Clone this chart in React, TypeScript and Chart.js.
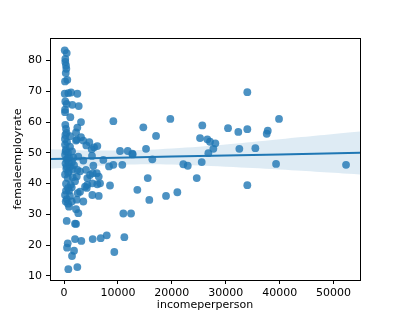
import React, { useEffect, useRef } from "react";
import { Chart, registerables } from "chart.js";

Chart.register(...registerables);

const incomePerPerson = [
  130, 500, 240, 240, 370, 430, 320, 610, 190, 130,
  800, 1300, 2470, 240, 500, 1540, 2730, 190, 190, 1170,
  3150, 2470, 240, 370, 2230, 460, 3150, 2230, 4690, 4140,
  6180, 5140, 9150, 14710, 17070, 19720, 15210, 10390, 11820, 12740,
  7290, 2650, 3580, 16380, 5190, 1110, 2360, 3580, 5570, 1730,
  500, 870, 1610, 2470, 690, 1610, 2360, 1240, 1430, 370,
  930, 190, 500, 320, 1430, 930, 2230, 2650, 2230, 2040,
  500, 2970, 2540, 3580, 4320, 3900, 5250, 6180, 6680, 6440,
  4320, 5320, 6070, 5440, 4080, 4820, 6440, 5250, 8530, 8350,
  9150, 10810, 13600, 15530, 15820, 11000, 12430, 18920, 21020, 690,
  560, 2040, 3210, 5320, 6810, 7920, 11190, 9330, 1860, 1480,
  800, 2470, 22130, 22950, 24620, 39330, 52310, 34000, 34000, 39880,
  25650, 30420, 32330, 34000, 37790, 37600, 25230, 26580, 27080, 28070,
  27700, 26770, 32520, 35490, 25540, 12670, 190, 370, 190, 460,
  280, 740, 560, 930, 740, 190, 370, 740, 1110, 740,
  1110, 1480, 1860, 1110, 1480, 2970, 2040, 4210, 2360, 170,
  300, 650, 250, 900, 420,
];

const femaleEmployRate = [
  83.3, 82.4, 80.5, 79.5, 78.4, 77.3, 75.9, 73.7, 73.2, 69.2,
  69.4, 69.6, 69.2, 66.7, 65.9, 65.6, 65.2, 64.0, 63.2, 61.6,
  60.0, 58.2, 59.1, 57.8, 56.6, 56.5, 55.1, 54.0, 53.5, 52.4,
  52.2, 51.2, 60.3, 58.3, 55.5, 61.0, 51.3, 50.6, 50.6, 49.5,
  47.7, 48.8, 47.5, 47.9, 49.0, 55.4, 54.3, 54.0, 51.8, 48.4,
  45.6, 44.0, 44.7, 44.5, 41.8, 42.1, 42.3, 39.6, 38.8, 37.7,
  37.7, 36.3, 35.0, 34.2, 34.2, 32.5, 31.7, 30.4, 26.9, 27.0,
  27.9, 37.4, 36.9, 34.2, 39.6, 39.0, 40.1, 39.8, 40.1, 42.3,
  41.8, 43.4, 43.4, 45.8, 44.5, 42.8, 36.0, 36.3, 39.4, 45.6,
  46.1, 46.1, 38.0, 41.8, 34.7, 30.3, 30.3, 36.0, 37.2, 20.6,
  19.2, 22.0, 21.4, 22.0, 22.3, 23.2, 22.6, 17.8, 18.2, 16.5,
  12.2, 12.9, 46.3, 45.8, 41.8, 46.4, 46.1, 39.5, 69.7, 61.0,
  58.9, 58.0, 56.8, 57.7, 57.2, 56.2, 54.8, 54.4, 53.6, 53.1,
  51.3, 49.9, 51.3, 51.5, 47.0, 49.7, 52.7, 51.1, 49.4, 47.8,
  46.5, 50.0, 53.5, 48.5, 43.5, 43.0, 40.0, 38.5, 36.0, 33.5,
  45.5, 47.0, 46.0, 52.0, 50.5, 44.0, 40.8, 38.6, 34.8, 54.5,
  50.5, 48.2, 55.8, 46.8, 44.8,
];

// Regression line and 95% confidence band
const fitX = [-2600, 5000, 12000, 20000, 30000, 40000, 54900];
const fitLine = [48.0, 48.26, 48.51, 48.79, 49.13, 49.48, 50.0];
const fitUpper = [51.2, 50.8, 50.8, 51.4, 52.7, 54.4, 56.9];
const fitLower = [44.8, 45.7, 46.2, 46.2, 45.5, 44.6, 43.0];

const xTicks = [0, 10000, 20000, 30000, 40000, 50000];
const yTicks = [10, 20, 30, 40, 50, 60, 70, 80];
const xLimits = [-2600, 54900];
const yLimits = [8.7, 87.3];
const xTitle = "incomeperperson";
const yTitle = "femaleemployrate";

const spinePlugin = {
  id: "spines",
  afterDatasetsDraw(chart: any) {
    const { ctx, chartArea } = chart;
    ctx.save();
    ctx.strokeStyle = "#000";
    ctx.lineWidth = 1;
    ctx.strokeRect(
      Math.round(chartArea.left) + 0.5,
      Math.round(chartArea.top) + 0.5,
      Math.round(chartArea.right - chartArea.left),
      Math.round(chartArea.bottom - chartArea.top)
    );
    ctx.restore();
  },
};

export default function App() {
  const ref = useRef<HTMLCanvasElement>(null);
  useEffect(() => {
    if (!ref.current) return;
    const points = incomePerPerson.map((x, i) => ({ x, y: femaleEmployRate[i] }));
    const toPts = (ys: number[]) => fitX.map((x, i) => ({ x, y: ys[i] }));
    const font = { family: "DejaVu Sans", size: 11 };
    const chart = new Chart(ref.current, {
      type: "scatter",
      data: {
        datasets: [
          {
            type: "line",
            data: toPts(fitUpper),
            borderWidth: 0,
            pointRadius: 0,
            tension: 0.4,
            backgroundColor: "rgba(31,119,180,0.15)",
            fill: "+1",
            order: 2,
          } as any,
          {
            type: "line",
            data: toPts(fitLower),
            borderWidth: 0,
            pointRadius: 0,
            tension: 0.4,
            fill: false,
            order: 2,
          } as any,
          {
            type: "line",
            data: toPts(fitLine),
            borderColor: "#1f77b4",
            borderWidth: 2,
            pointRadius: 0,
            fill: false,
            order: 1,
          } as any,
          {
            data: points,
            pointRadius: 3.9,
            pointBorderWidth: 0,
            borderWidth: 0,
            backgroundColor: "rgba(31,119,180,0.8)",
            order: 3,
          } as any,
        ],
      },
      options: {
        responsive: false,
        animation: false,
        events: [],
        layout: { padding: { top: 38, right: 40, left: 0, bottom: 0 } },
        plugins: { legend: { display: false }, tooltip: { enabled: false } },
        scales: {
          x: {
            type: "linear",
            min: xLimits[0],
            max: xLimits[1],
            afterBuildTicks: (s: any) => {
              s.ticks = xTicks.map((v) => ({ value: v }));
            },
            afterFit: (s: any) => {
              s.height = 40;
            },
            border: { display: false },
            grid: { drawOnChartArea: false, drawTicks: true, tickLength: 4, color: "#000", tickWidth: 1 },
            ticks: { font, color: "#000", padding: 3, maxRotation: 0, callback: (v: any) => String(v) },
            title: { display: true, text: xTitle, font, color: "#000", padding: { top: 0, bottom: 8 } },
          },
          y: {
            type: "linear",
            min: yLimits[0],
            max: yLimits[1],
            afterBuildTicks: (s: any) => {
              s.ticks = yTicks.map((v) => ({ value: v }));
            },
            afterFit: (s: any) => {
              s.width = 50;
            },
            border: { display: false },
            grid: { drawOnChartArea: false, drawTicks: true, tickLength: 4, color: "#000", tickWidth: 1 },
            ticks: { font, color: "#000", padding: 4, callback: (v: any) => String(v) },
            title: { display: true, text: yTitle, font, color: "#000", padding: { top: 12, bottom: 0 } },
          },
        },
      },
      plugins: [spinePlugin],
    });
    return () => chart.destroy();
  }, []);
  return (
    <div style={{ position: "fixed", left: 0, top: 0, width: 400, height: 320, background: "#fff" }}>
      <canvas ref={ref} width={400} height={320} style={{ width: 400, height: 320 }} />
    </div>
  );
}
